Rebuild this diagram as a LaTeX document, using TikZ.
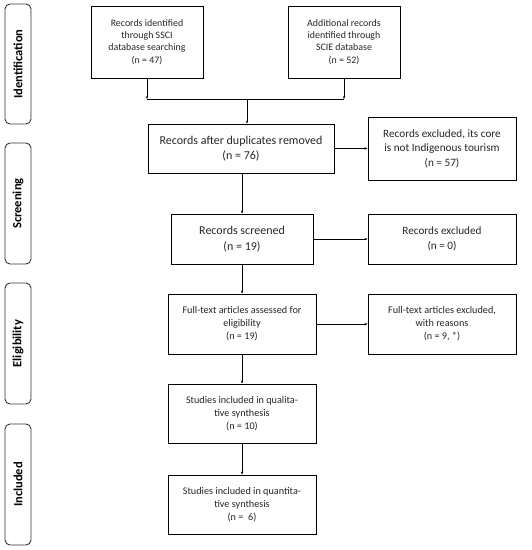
\documentclass[tikz,border=0pt]{standalone}
\usepackage{fontspec}
\setmainfont{Carlito}
\usetikzlibrary{arrows.meta}
\begin{document}
\begin{tikzpicture}[x=1pt,y=-1pt,
  box/.style={draw=black, line width=0.9pt, align=center, inner sep=2pt, text=black!85},
  small/.style={font=\fontsize{9.9}{12.3}\selectfont},
  mid/.style={font=\fontsize{10.2}{13}\selectfont},
  big/.style={font=\fontsize{11.2}{14.5}\selectfont},
  large/.style={font=\fontsize{12}{15.5}\selectfont},
  side/.style={draw=black!80, line width=0.9pt, rounded corners=5pt, minimum width=26pt, text=black, font=\fontsize{12.5}{13}\selectfont\bfseries},
  arr/.style={line width=0.7pt, -{Stealth[length=3pt,width=2.4pt]}},
  ln/.style={line width=0.7pt}]
\useasboundingbox (0,0) rectangle (532,550);
% side labels
\node[side, minimum height=120pt] (sid) at (18,64) {\rotatebox{90}{Identification}};
\node[side, minimum height=121pt] (sscr) at (18,203.5) {\rotatebox{90}{Screening}};
\node[side, minimum height=121pt] (sel) at (18,343.5) {\rotatebox{90}{Eligibility}};
\node[side, minimum height=121pt] (sinc) at (18,484.5) {\rotatebox{90}{Included}};
% boxes
\node[box, small, minimum width=112pt, minimum height=72pt] (ssci) at (147,42) {Records identified\\through SSCI\\database searching\\(n = 47)};
\node[box, small, minimum width=112pt, minimum height=72pt] (scie) at (344,42) {Additional records\\identified through\\SCIE database\\(n = 52)};
\node[box, large, minimum width=186pt, minimum height=49pt] (dup) at (241,148.5) {Records after duplicates removed\\(n = 76)};
\node[box, big, minimum width=148pt, minimum height=63pt] (ex1) at (442,148.5) {Records excluded, its core\\is not Indigenous tourism\\(n = 57)};
\node[box, large, minimum width=142pt, minimum height=50pt] (scr) at (242,239) {Records screened\\(n = 19)};
\node[box, big, minimum width=148pt, minimum height=50pt] (ex2) at (442,239) {Records excluded\\(n = 0)};
\node[box, mid, minimum width=148pt, minimum height=60pt] (ft) at (242,324) {Full-text articles assessed for\\eligibility\\(n = 19)};
\node[box, mid, minimum width=148pt, minimum height=60pt] (ex3) at (442,324) {Full-text articles excluded,\\with reasons\\(n = 9, *)};
\node[box, mid, minimum width=148pt, minimum height=59pt] (qual) at (242,413.5) {Studies included in qualita-\\tive synthesis\\(n = 10)};
\node[box, mid, minimum width=148pt, minimum height=59pt] (quant) at (242,504.5) {Studies included in quantita-\\tive synthesis\\(n =~~6)};
% connectors
\coordinate (jl) at (147,99);
\coordinate (jr) at (344,99);
\coordinate (jm) at (247,99);
\draw[arr] (ssci.south) -- (jl);
\draw[arr] (scie.south) -- (jr);
\draw[ln] (jl) -- (jr);
\draw[arr] (jm) -- (dup.north -| jm);
\draw[arr] (dup) -- (ex1);
\draw[arr] (dup.south -| scr) -- (scr.north);
\draw[arr] (scr) -- (ex2);
\draw[arr] (scr) -- (ft);
\draw[arr] (ft) -- (ex3);
\draw[arr] (ft) -- (qual);
\draw[arr] (qual) -- (quant);
\end{tikzpicture}
\end{document}
